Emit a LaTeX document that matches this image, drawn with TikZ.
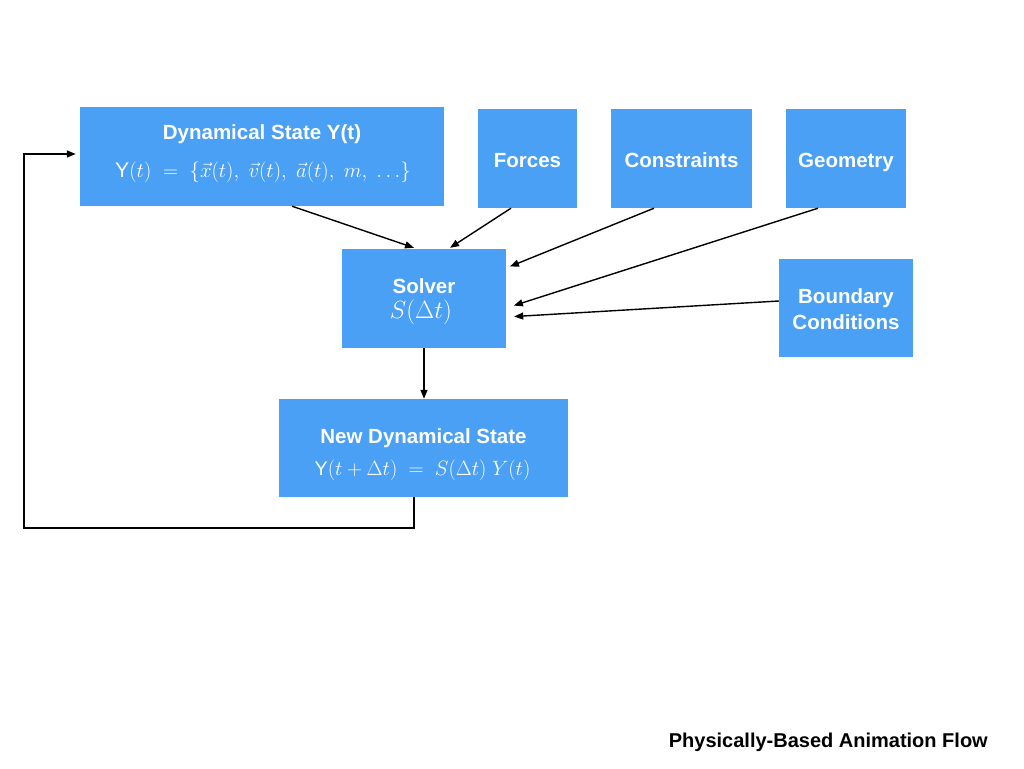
\documentclass[tikz,border=0pt]{standalone}
\usepackage{fontspec}
\setmainfont{Liberation Sans}
\usetikzlibrary{arrows.meta}
\definecolor{boxblue}{RGB}{74,160,245}
\tikzset{
  box/.style={fill=boxblue, inner sep=0pt},
  ttl/.style={text=white, inner sep=0pt, anchor=base,
    font=\bfseries\fontsize{20.5}{24}\selectfont},
  mth/.style={text=white, inner sep=0pt, anchor=base},
  arr/.style={-{Triangle[length=9pt,width=7pt]}, line width=1.4pt, black},
}
\begin{document}
\begin{tikzpicture}[x=1pt,y=-1pt]
\useasboundingbox (0,0) rectangle (1024,768);
\node[box, minimum width=364pt, minimum height=99pt] (dyn) at (262,156.5) {};
\node[box, minimum width=99pt, minimum height=99pt] (forces) at (527.5,158.5) {};
\node[box, minimum width=141pt, minimum height=99pt] (cons) at (681.5,158.5) {};
\node[box, minimum width=120pt, minimum height=99pt] (geo) at (846,158.5) {};
\node[box, minimum width=164pt, minimum height=99pt] (solver) at (424,298.5) {};
\node[box, minimum width=134pt, minimum height=98pt] (bc) at (846,308) {};
\node[box, minimum width=289pt, minimum height=98pt] (new) at (423.5,448) {};

\node[ttl] (dynT) at (262,139.5) {Dynamical State Y(t)};
\node[mth, font=\fontsize{21.2}{25}\selectfont] (dynM) at (263,177)
  {Y$(t)\ =\ \{\vec{x}(t),\ \vec{v}(t),\ \vec{a}(t),\ m,\ \ldots\}$};
\node[ttl] (forcesT) at (527.5,167) {Forces};
\node[ttl] (consT) at (681.5,167) {Constraints};
\node[ttl] (geoT) at (846,167) {Geometry};
\node[ttl] (solverT) at (424,293) {Solver};
\node[mth, font=\fontsize{26}{30}\selectfont] (solverM) at (421,318.5) {$S(\Delta t)$};
\node[ttl] (bcT1) at (846,303) {Boundary};
\node[ttl] (bcT2) at (846,329) {Conditions};
\node[ttl] (newT) at (423.5,443) {New Dynamical State};
\node[mth, font=\fontsize{19.8}{24}\selectfont] (newM) at (422.5,475)
  {Y$(t+\Delta t)\ =\ S(\Delta t)\ Y(t)$};
\node[anchor=base east, inner sep=0pt, font=\bfseries\fontsize{20}{24}\selectfont] (cap) at (988,747)
  {Physically-Based Animation Flow};

\coordinate (corner) at (24,528);
\draw[arr] ([xshift=30pt]dyn.south) -- ([xshift=-10pt,yshift=1pt]solver.north);
\draw[arr] ([xshift=-16.5pt]forces.south) -- ([xshift=26pt,yshift=1pt]solver.north);
\draw[arr, shorten >=4pt] ([xshift=-27.5pt]cons.south) -- ([yshift=30.5pt]solver.east);
\draw[arr, shorten >=8pt] ([xshift=-28pt]geo.south) -- ([yshift=-9.5pt]solver.east);
\draw[arr, shorten >=8pt] ([yshift=7pt]bc.west) -- ([yshift=-18.5pt]solver.east);
\draw[arr] (solver.south) -- (solver.south |- new.north);
\draw[arr, shorten >=4pt] ([xshift=-9.5pt]new.south) |- (corner) |- ([yshift=2.5pt]dyn.west);
\end{tikzpicture}
\end{document}
